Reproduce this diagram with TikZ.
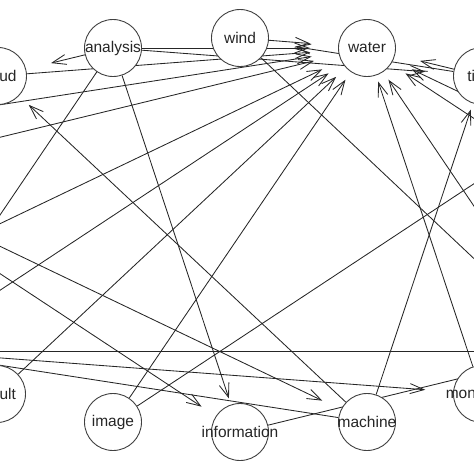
\documentclass[tikz,border=0pt]{standalone}
\usepackage{fontspec}
\setmainfont{Liberation Sans}
\usetikzlibrary{arrows.meta,%
                shapes.geometric,%
                backgrounds}
\newcommand{\Word}[3]{%
  \node[VertexStyle, label={[LabelStyle]center:#3}] (#1) at (#2) {};
  \node[TipZone] (#1-h) at (#2) {};}

\begin{document}
\begin{tikzpicture}[x = 1pt, y = -1pt]
  \tikzstyle{VertexStyle} = [circle, draw = black!75, fill = white,
                             minimum size = 57pt, inner sep = 0pt,
                             line width = 0.9pt]
  \tikzstyle{LabelStyle} = [font = \fontsize{15.5}{18}\selectfont,
                            text = black!85, inner sep = 0pt]
  \tikzstyle{TipZone} = [ellipse, minimum width = 114pt,
                         minimum height = 68pt, inner sep = 0pt]
\tikzset{EdgeStyle/.style={-{Straight Barb[length=14pt, width=10pt]},
                           draw = black!85, line width = 0.85pt}}
\useasboundingbox (0,0) rectangle (474,474);

\Word{wind}{240,38}{wind}
\Word{water}{367,48}{water}
\Word{analysis}{113,48}{analysis}
\Word{time}{482,76}{time}
\Word{cloud}{-2,76}{cloud}
\Word{monitoring}{482,394}{monitoring}
\Word{result}{-3,394}{result}
\Word{machine}{367,422}{machine}
\Word{image}{113,422}{image}
\Word{information}{240,432}{information}

\coordinate (L1) at (-92,119);
\coordinate (L2) at (-151,174);
\coordinate (L4) at (-151,296);
\coordinate (L5) at (-92,351);
\coordinate (R1) at (572,119);
\coordinate (R2) at (631,174);
\coordinate (R3) at (651,235);
\coordinate (R5) at (572,351);

\begin{scope}[on background layer]
\draw[EdgeStyle] (analysis) -- (cloud-h);
\draw[EdgeStyle] (cloud) -- (water-h);
\draw[EdgeStyle] (analysis) -- (water-h);
\draw[EdgeStyle] (wind) -- (water-h);
\draw[EdgeStyle] (time) -- (wind-h);
\draw[EdgeStyle] (time) -- (water-h);
\draw[EdgeStyle] (analysis) -- (time-h);
\draw[EdgeStyle] (analysis) -- (information-h);
\draw[EdgeStyle] (analysis) -- (L5);
\draw[EdgeStyle] (machine) -- (cloud-h);
\draw[EdgeStyle] (machine) -- (time-h);
\draw[EdgeStyle] (machine) -- (L5);
\draw[EdgeStyle] (monitoring) -- (water-h);
\draw[EdgeStyle] (image) -- (water-h);
\draw[EdgeStyle] (image) -- (R1);
\draw[EdgeStyle] (result) -- (water-h);
\draw[EdgeStyle] (information) -- (R5);
\draw[EdgeStyle] (wind) -- (R5);
\draw[EdgeStyle] (L1) -- (water-h);
\draw[EdgeStyle] (L2) -- (water-h);
\draw[EdgeStyle] (L4) -- (water-h);
\draw[EdgeStyle] (L5) -- (water-h);
\draw[EdgeStyle] (R2) -- (water-h);
\draw[EdgeStyle] (R3) -- (water-h);
\draw[EdgeStyle] (R5) -- (water-h);
\draw[EdgeStyle] (L5) -- (R5);
\draw[EdgeStyle] (L5) -- (monitoring-h);
\draw[EdgeStyle] (L2) -- (machine-h);
\draw[EdgeStyle] (L2) -- (information-h);
\end{scope}

\end{tikzpicture}
\end{document}
